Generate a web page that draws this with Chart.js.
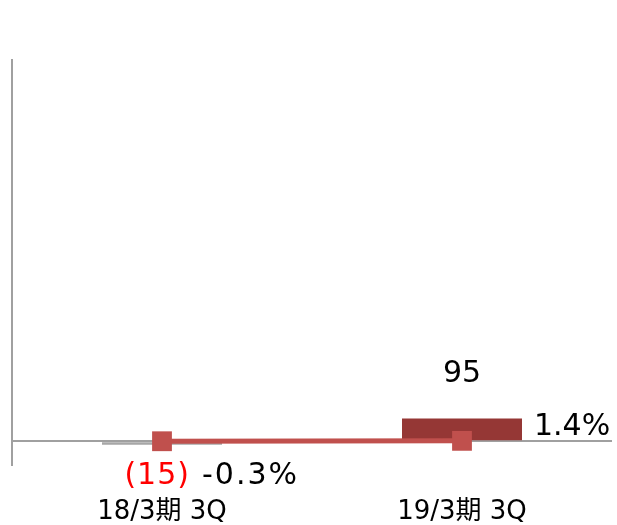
<!DOCTYPE html>
<html>
<head>
<meta charset="utf-8">
<script src="https://cdn.jsdelivr.net/npm/chart.js@4/dist/chart.umd.min.js"></script>
<style>
  html, body { margin: 0; padding: 0; background: #fff; }
  #wrap { width: 617px; height: 525px; }
</style>
</head>
<body>
<div id="wrap"><canvas id="c" width="617" height="525"></canvas></div>
<script>
// Quarterly result and its ratio
const categories = ['18/3期 3Q', '19/3期 3Q'];
const amounts = [-15, 95];
const ratios = [-0.3, 1.4];
const axisMin = -100;
const axisMax = 1600;

const FONT = '"DejaVu Sans", "Noto Sans CJK JP", sans-serif';

const fmtAmount = v => v < 0 ? '(' + Math.abs(v) + ')' : String(v);
const fmtRatio = v => v.toFixed(1) + '%';

const valueLabels = {
  id: 'valueLabels',
  afterDatasetsDraw(chart) {
    const ctx = chart.ctx;
    const bars = chart.getDatasetMeta(1).data;
    const pts = chart.getDatasetMeta(0).data;
    ctx.save();
    ctx.font = '30px ' + FONT;
    ctx.textBaseline = 'middle';
    bars.forEach((bar, i) => {
      const v = amounts[i];
      const p = pts[i];
      if (v < 0) {
        // amount and ratio share one row under the axis
        const rowY = bar.y + 31;
        ctx.letterSpacing = '1px';
        ctx.fillStyle = '#FF0000';
        ctx.textAlign = 'right';
        ctx.fillText(fmtAmount(v), bar.x + 28, rowY);
        ctx.fillStyle = '#000000';
        ctx.textAlign = 'left';
        ctx.letterSpacing = '2px';
        ctx.fillText(fmtRatio(ratios[i]), p.x + 40, rowY);
        ctx.letterSpacing = '0px';
      } else {
        ctx.fillStyle = '#000000';
        ctx.textAlign = 'center';
        ctx.fillText(fmtAmount(v), bar.x, bar.y - 44);
        ctx.textAlign = 'left';
        ctx.fillText(fmtRatio(ratios[i]), bar.x + bar.width / 2 + 12, (bar.y + bar.base) / 2 - 2);
      }
    });
    ctx.restore();
  }
};

new Chart(document.getElementById('c'), {
  data: {
    labels: categories,
    datasets: [
      {
        type: 'line',
        data: ratios,
        yAxisID: 'y2',
        order: 0,
        borderColor: '#C0504D',
        borderWidth: 5,
        pointStyle: 'rect',
        pointRadius: 14,
        pointHoverRadius: 14,
        pointBackgroundColor: '#C0504D',
        pointBorderColor: '#C0504D',
        pointBorderWidth: 0
      },
      {
        type: 'bar',
        data: amounts,
        yAxisID: 'y',
        order: 1,
        backgroundColor: ['#A6A6A6', '#953735'],
        categoryPercentage: 1,
        barPercentage: 0.4
      }
    ]
  },
  options: {
    responsive: false,
    animation: false,
    events: [],
    layout: { autoPadding: false, padding: { left: 12, right: 5, top: 60, bottom: 0 } },
    plugins: {
      legend: { display: false },
      tooltip: { enabled: false },
      title: { display: false }
    },
    scales: {
      x: {
        offset: true,
        grid: { display: false, drawTicks: false },
        border: { display: false },
        afterFit: scale => {
          scale.height = 60;
          scale.paddingLeft = 0;
          scale.paddingRight = 0;
        },
        ticks: {
          color: '#000000',
          font: { family: FONT, size: 26, lineHeight: 1 },
          padding: 34,
          maxRotation: 0
        }
      },
      y: {
        min: axisMin,
        max: axisMax,
        border: { display: true, color: '#A0A0A0', width: 2 },
        grid: {
          drawTicks: false,
          lineWidth: 2,
          color: c => c.tick && c.tick.value === 0 ? '#A0A0A0' : 'rgba(0,0,0,0)'
        },
        afterFit: scale => { scale.width = 0; },
        ticks: { display: false, stepSize: 100 }
      },
      y2: {
        display: false,
        min: axisMin,
        max: axisMax
      }
    }
  },
  plugins: [valueLabels]
});
</script>
</body>
</html>
